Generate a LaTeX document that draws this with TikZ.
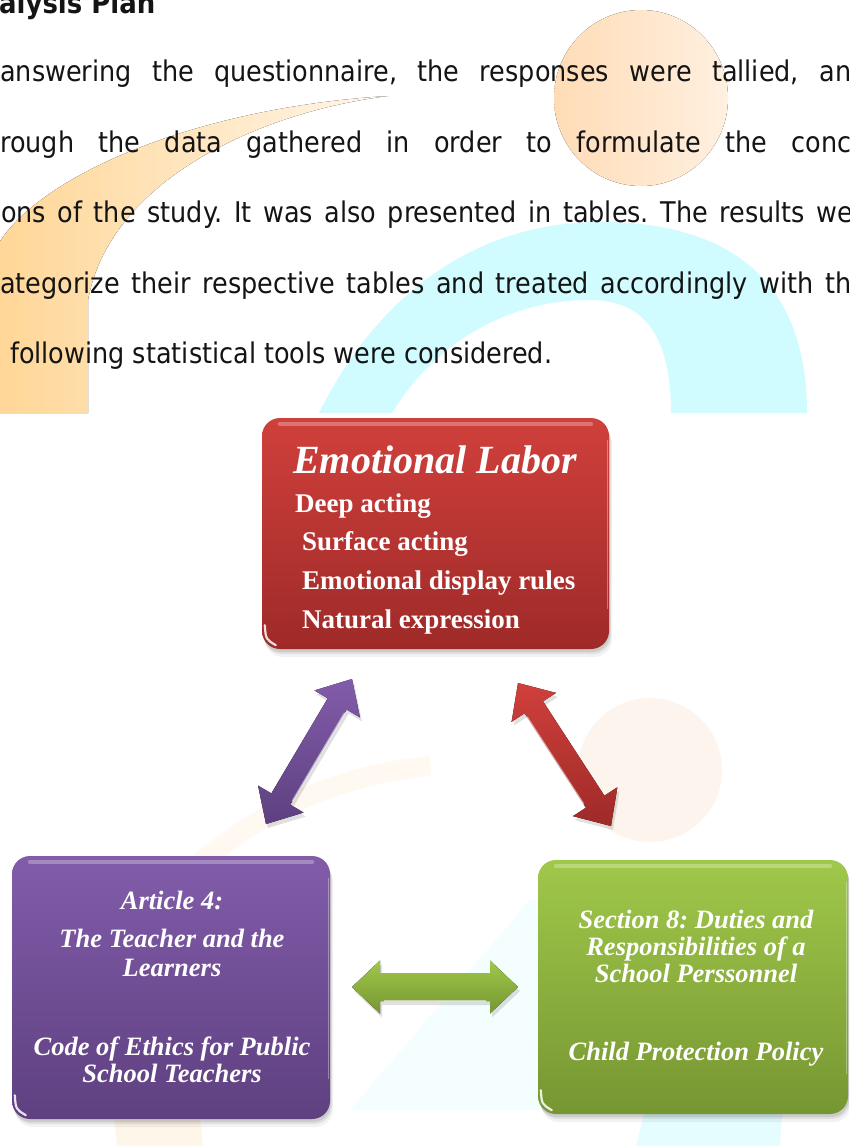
\documentclass[tikz,border=0pt]{standalone}
\usepackage{fontspec}
\setmainfont{Liberation Serif}
\newfontfamily\bodyfont{DejaVu Sans}[FakeStretch=0.895]
\usetikzlibrary{calc}
\frenchspacing

% watermark tints
\definecolor{wmOrange}{RGB}{255,214,150}
\definecolor{wmPale}{RGB}{255,246,234}
\definecolor{wmPeachL}{RGB}{255,220,182}
\definecolor{wmPeachR}{RGB}{255,240,224}
\definecolor{wmCyan}{RGB}{208,251,255}
\definecolor{wmFaintPeach}{RGB}{253,245,237}
\definecolor{wmFaintOrange}{RGB}{255,249,242}
\definecolor{wmFaintCyan}{RGB}{244,254,255}
% box and arrow tints
\definecolor{redTop}{RGB}{208,64,60}
\definecolor{redBot}{RGB}{158,42,40}
\definecolor{purTop}{RGB}{130,92,170}
\definecolor{purBot}{RGB}{94,64,128}
\definecolor{grnTop}{RGB}{160,200,74}
\definecolor{grnBot}{RGB}{118,150,50}

% double-headed block arrow between two tips:
% #1,#2 tips, #3 head length, #4 head half width, #5 shaft half width,
% #6 fill style, #7 side of the bright edge (90 or -90)
\newcommand\dblarrow[7]{%
  \coordinate (#1-h) at ($(#1)!#3!(#2)$);
  \coordinate (#2-h) at ($(#2)!#3!(#1)$);
  \fill[#6] (#1) -- ($(#1-h)!#4!90:(#2)$) -- ($(#1-h)!#5!90:(#2)$)
     -- ($(#2-h)!#5!-90:(#1)$) -- ($(#2-h)!#4!-90:(#1)$) -- (#2)
     -- ($(#2-h)!#4!90:(#1)$) -- ($(#2-h)!#5!90:(#1)$)
     -- ($(#1-h)!#5!-90:(#2)$) -- ($(#1-h)!#4!-90:(#2)$) -- cycle;
  \coordinate (#1-s) at ($(#1-h)!#5!#7:(#2)$);
  \draw[arrowgloss] ($(#1-s)!0.04!($(#2-h)+(#1-s)-(#1-h)$)$)
     -- ($(#1-s)!0.96!($(#2-h)+(#1-s)-(#1-h)$)$);
}

\begin{document}
\begin{tikzpicture}[x=1pt,y=-1pt,
  bodytxt/.style={inner sep=0pt,anchor=base west,text=black!92,
    font=\bodyfont\fontsize{28.5}{34}\selectfont},
  headtxt/.style={bodytxt,font=\bodyfont\bfseries\fontsize{29}{34}\selectfont},
  box/.style={rectangle,rounded corners=18pt,inner sep=0pt,
    preaction={fill=black,opacity=0.05,transform canvas={shift={(3pt,-8pt)}}},
    preaction={fill=black,opacity=0.07,transform canvas={shift={(2pt,-5pt)}}},
    preaction={fill=black,opacity=0.09,transform canvas={shift={(1pt,-3pt)}}}},
  gloss/.style={white,opacity=0.28,line width=4pt,line cap=round},
  glint/.style={white,opacity=0.85,line width=2.2pt,line cap=round},
  rim/.style={white,opacity=0.35,line width=1.2pt},
  eltitle/.style={inner sep=0pt,anchor=base,text=white,
    font=\bfseries\itshape\fontsize{40}{46}\selectfont},
  elitem/.style={inner sep=0pt,anchor=base west,text=white,
    font=\bfseries\fontsize{27}{30}\selectfont},
  wtxt/.style={inner sep=0pt,anchor=base,text=white,
    font=\bfseries\itshape\fontsize{26.5}{30}\selectfont},
  arrowshadow/.style={preaction={fill=black,opacity=0.12,
    transform canvas={shift={(2pt,-4pt)}}}},
  arrowgloss/.style={white,opacity=0.55,line width=1.6pt,line cap=round},
]
\useasboundingbox (0,0) rectangle (849,1146);
\clip (0,0) rectangle (849,1146);
\fill[white] (0,0) rectangle (849,1146);

% ---- page watermark above the figure
\begin{scope}
  \clip (0,0) rectangle (849,413);
  \fill[left color=wmPeachL,right color=wmPeachR] (641,98) ellipse [x radius=87,y radius=88];
  \fill[left color=wmOrange,right color=wmPale]
    (-5,413) -- (-5,250) .. controls (30,180) and (190,108) .. (388,96)
    .. controls (260,112) and (110,180) .. (88,300) -- (88,413) -- cycle;
  \fill[wmCyan]
    (319,413) .. controls (380,290) and (480,222) .. (600,222)
    .. controls (740,222) and (807,290) .. (807,413) -- (671,413)
    .. controls (671,330) and (640,300) .. (590,300)
    .. controls (500,300) and (430,350) .. (392,413) -- cycle;
\end{scope}

% ---- faint watermark showing through the figure
\fill[wmFaintPeach] (650,770) circle [radius=72];
\draw[wmFaintOrange,line width=20pt] (430,766) .. controls (330,776) and (250,816) .. (180,880);
\fill[wmFaintCyan] (350,1110) -- (530,900) -- (540,900) -- (540,1110) -- cycle;

% ---- page watermark below the figure
\begin{scope}
  \clip (0,1120) rectangle (849,1146);
  \fill[wmPale] (114,1118) -- (200,1118) -- (203,1146) -- (117,1146) -- cycle;
\end{scope}
\fill[wmFaintCyan!60!wmCyan] (644,1114) -- (782,1114) -- (780,1146) -- (636,1146) -- cycle;

% ---- body text
\node[headtxt] (hd) at (-1,13) {alysis Plan};
\node[bodytxt] (l1) at (0,81) {\makebox[851pt][s]{answering the questionnaire, the responses were tallied, an}};
\node[bodytxt] (l2) at (0,152) {\makebox[851pt][s]{rough the data gathered in order to formulate the conc}};
\node[bodytxt] (l3) at (1,222) {\makebox[852pt][s]{ons of the study. It was also presented in tables. The results we}};
\node[bodytxt] (l4) at (0,293) {\makebox[851pt][s]{ategorize their respective tables and treated accordingly with th}};
\node[bodytxt] (l5) at (10,363) {following statistical tools were considered.};

% ---- boxes
\node[box,top color=redTop,bottom color=redBot,minimum width=347,minimum height=231] (el) at (435.5,533.5) {};
\node[box,top color=purTop,bottom color=purBot,minimum width=318,minimum height=263] (art) at (171,987.5) {};
\node[box,top color=grnTop,bottom color=grnBot,minimum width=310,minimum height=254] (sec) at (693,987) {};

% glossy rims on the boxes
\foreach \b in {el,art,sec}{
  \draw[gloss] ([xshift=18pt,yshift=-6pt]\b.north west) -- ([xshift=-18pt,yshift=-6pt]\b.north east);
  \draw[rim] ([xshift=-2pt,yshift=-22pt]\b.north east) -- ([xshift=-2pt,yshift=40pt]\b.south east);
  \draw[glint] ([xshift=3pt,yshift=24pt]\b.south west)
     .. controls ([xshift=4pt,yshift=10pt]\b.south west) .. ([xshift=14pt,yshift=4pt]\b.south west);
}

% ---- box texts
\node[eltitle] (elt) at (435,473) {Emotional Labor};
\node[elitem] (e1) at (295,512) {Deep acting};
\node[elitem] (e2) at (302,550) {Surface acting};
\node[elitem] (e3) at (302,589) {Emotional display rules};
\node[elitem] (e4) at (302,628) {Natural expression};

\node[wtxt] (a1) at (172,909) {Article 4:};
\node[wtxt] (a2) at (172,947) {The Teacher and the};
\node[wtxt] (a3) at (172,976) {Learners};
\node[wtxt] (a4) at (172,1055) {Code of Ethics for Public};
\node[wtxt] (a5) at (172,1082) {School Teachers};

\node[wtxt] (s1) at (696,928) {Section 8: Duties and};
\node[wtxt] (s2) at (696,955) {Responsibilities of a};
\node[wtxt] (s3) at (696,982) {School Perssonnel};
\node[wtxt] (s4) at (696,1060) {Child Protection Policy};

% ---- double arrows linking the boxes
\coordinate (pa) at (352,679);
\coordinate (pb) at (266,824);
\coordinate (ra) at (518,683);
\coordinate (rb) at (611,826);
\coordinate (ga) at (352,987);
\coordinate (gb) at (518,987);
\dblarrow{pa}{pb}{29pt}{26.5pt}{11pt}{arrowshadow,top color=purTop,bottom color=purBot}{90}
\dblarrow{ra}{rb}{29pt}{26.5pt}{11pt}{arrowshadow,top color=redTop,bottom color=redBot}{-90}
\dblarrow{ga}{gb}{28pt}{26.5pt}{14pt}{arrowshadow,top color=grnTop,bottom color=grnBot}{-90}
\end{tikzpicture}
\end{document}
